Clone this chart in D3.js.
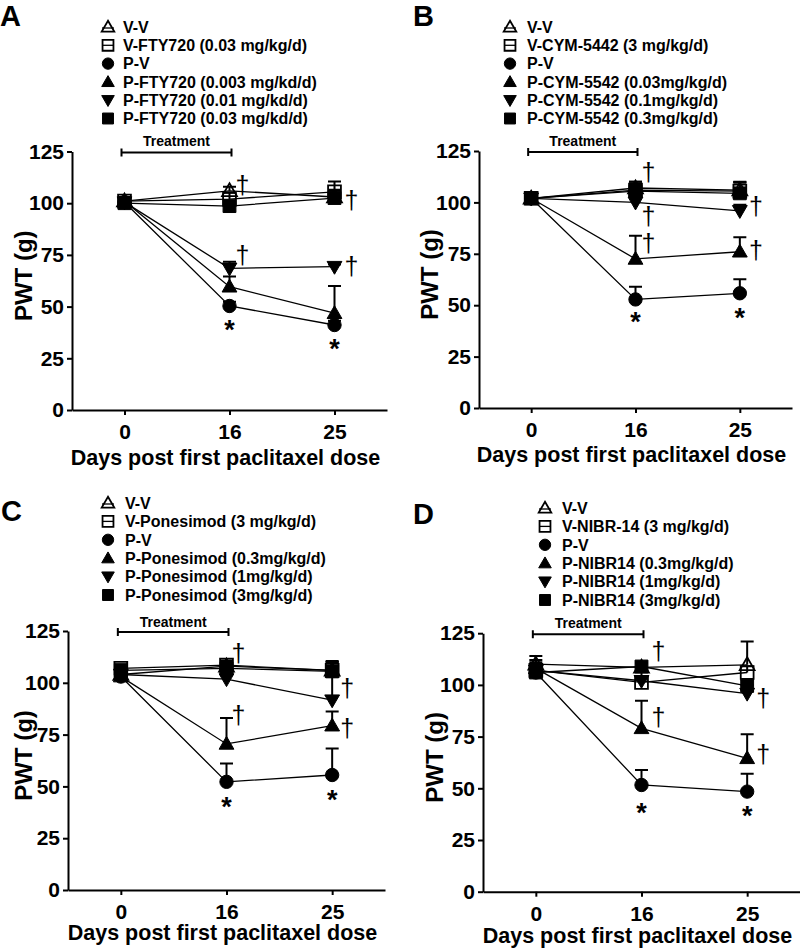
<!DOCTYPE html>
<html><head><meta charset="utf-8">
<script src="https://cdn.jsdelivr.net/npm/d3@7"></script>
<style>body{margin:0;background:#fff}svg{display:block}</style>
</head><body>
<svg id="chart" width="800" height="951"></svg>
<script>
// ---------- data ----------
const days = ["0", "16", "25"];
const yTickValues = [0, 25, 50, 75, 100, 125];
const markerTypes = ["triangleOpen", "squareOpen", "circle", "triangle", "triangleDown", "square"];

const groupsA = ["V-V", "V-FTY720 (0.03 mg/kg/d)", "P-V", "P-FTY720 (0.003 mg/kd/d)", "P-FTY720 (0.01 mg/kd/d)", "P-FTY720 (0.03 mg/kd/d)"];
const meansA = [[101, 106, 103], [101, 102, 105.5], [100.5, 50.3, 41.1], [101, 59.6, 46.8], [100.5, 68.5, 69.3], [100, 98.6, 102.5]];
const errorsA = [[2, 2, 3], [2, 3, 5], [1, 2, 2], [1, 5, 13.2], [1, 3.2, 1], [1, 2, 4]];
const daggersA = [[1, 107.8], [2, 100.6], [1, 74], [2, 68.7]];
const asterisksA = [[1, 42], [2, 32.4]];

const groupsB = ["V-V", "V-CYM-5442 (3 mg/kg/d)", "P-V", "P-CYM-5542 (0.03mg/kg/d)", "P-CYM-5542 (0.1mg/kg/d)", "P-CYM-5542 (0.3mg/kg/d)"];
const meansB = [[102, 107, 106], [102, 106, 105.5], [102, 52.8, 55.8], [102, 72.5, 76], [102, 100, 95.9], [102, 105.5, 104.4]];
const errorsB = [[1.5, 3, 4], [1.5, 3, 4], [1.5, 6.2, 6.8], [1.5, 11.3, 7], [1.5, 3, 3], [1.5, 4.5, 5.5]];
const daggersB = [[1, 114], [1, 92.4], [1, 79.2], [2, 97.2], [2, 75.8]];
const asterisksB = [[1, 45], [2, 46.7]];

const groupsC = ["V-V", "V-Ponesimod (3 mg/kg/d)", "P-V", "P-Ponesimod (0.3mg/kg/d)", "P-Ponesimod (1mg/kg/d)", "P-Ponesimod (3mg/kg/d)"];
const meansC = [[104, 108, 106], [107, 108.5, 106], [103, 52.2, 55.5], [103, 70.5, 79.3], [104, 101.8, 91.6], [106, 107, 105.5]];
const errorsC = [[3, 2, 4], [2, 2, 4], [1, 8.8, 12.8], [1, 12.5, 6.8], [1, 2, 14], [2, 2, 5]];
const daggersC = [[1, 113.4], [1, 83.5], [2, 96.5], [2, 77.2]];
const asterisksC = [[1, 43.4], [2, 46.8]];

const groupsD = ["V-V", "V-NIBR-14 (3 mg/kg/d)", "P-V", "P-NIBR14 (0.3mg/kg/d)", "P-NIBR14 (1mg/kg/d)", "P-NIBR14 (3mg/kg/d)"];
const meansD = [[110, 108.5, 109.7], [107, 101.2, 106], [106, 51.6, 48.4], [108, 79, 64.5], [107, 102, 95.8], [106, 108.9, 99.5]];
const errorsD = [[4, 2, 11.3], [5, 3, 3], [3, 7.3, 8.6], [3, 13.3, 11.6], [3, 5, 4], [4, 2, 3]];
const daggersD = [[1, 115.5], [1, 83.5], [2, 92.8], [2, 65.7]];
const asterisksD = [[1, 41], [2, 39.6]];

// ---------- layout ----------
const panels = [
  {letter: "A", groups: groupsA, means: meansA, errors: errorsA, daggers: daggersA, asterisks: asterisksA,
   letterX: 0, letterY: 26, left: 72, bottom: 410, width: 315, height: 258.5,
   legX: 108, legY: 27, legStep: 18.3, textX: 123, treatBase: 146, xlabBase: 465, ylabX: 32, dagDx: [0, 13, 17]},
  {letter: "B", groups: groupsB, means: meansB, errors: errorsB, daggers: daggersB, asterisks: asterisksB,
   letterX: 413, letterY: 26, left: 479, bottom: 408, width: 313, height: 257,
   legX: 510, legY: 27, legStep: 18.3, textX: 527, treatBase: 146, xlabBase: 462, ylabX: 438, dagDx: [0, 13, 16]},
  {letter: "C", groups: groupsC, means: meansC, errors: errorsC, daggers: daggersC, asterisks: asterisksC,
   letterX: 1, letterY: 521, left: 68, bottom: 890, width: 317, height: 259,
   legX: 108, legY: 503, legStep: 18.4, textX: 125, treatBase: 627, xlabBase: 940, ylabX: 32, dagDx: [0, 12, 15]},
  {letter: "D", groups: groupsD, means: meansD, errors: errorsD, daggers: daggersD, asterisks: asterisksD,
   letterX: 413, letterY: 524, left: 483, bottom: 891.7, width: 317, height: 258.5,
   legX: 545, legY: 508, legStep: 18.4, textX: 562, treatBase: 628, xlabBase: 943, ylabX: 443, dagDx: [0, 17, 16]}
];

const FONT = "'Liberation Sans', Arial, Helvetica, sans-serif";
const svg = d3.select("#chart");

function markerPath(type, big) {
  const k = big ? 1 : 0.85;
  let sym, size;
  if (type.startsWith("triangle")) { sym = d3.symbolTriangle; size = 95 * k * k; }
  else if (type.startsWith("square")) { sym = d3.symbolSquare; size = 165 * k * k; }
  else { sym = d3.symbolCircle; size = 140 * k * k; }
  return d3.symbol(sym, size)();
}
function drawMarker(g, type, x, y, big) {
  const open = type.endsWith("Open");
  const rot = type === "triangleDown" ? 180 : 0;
  const ty = type.startsWith("triangle") ? (rot ? -1 : 1) : 0;
  g.append("path")
    .attr("d", markerPath(type, big))
    .attr("transform", `translate(${x},${y + ty}) rotate(${rot})`)
    .attr("fill", open ? "none" : "#000")
    .attr("stroke", "#000")
    .attr("stroke-width", open ? 1.8 : 1);
}

panels.forEach(p => {
  const g = svg.append("g");
  const x = d3.scalePoint().domain(days).range([p.left, p.left + p.width]).padding(0.5);
  const y = d3.scaleLinear().domain([0, 125]).range([p.bottom, p.bottom - p.height]);

  // panel letter
  g.append("text").attr("x", p.letterX).attr("y", p.letterY).attr("fill", "#000")
    .attr("font-family", FONT).attr("font-weight", "bold").attr("font-size", 29).text(p.letter);

  // legend
  p.groups.forEach((name, i) => {
    const cy = p.legY + i * p.legStep;
    const t = markerTypes[i];
    drawMarker(g, t, p.legX, cy, false);
    if (t.endsWith("Open")) {
      const ly = cy + (t.startsWith("tri") ? 1 : 0);
      g.append("line").attr("x1", p.legX - 6).attr("x2", p.legX + 6).attr("y1", ly).attr("y2", ly)
        .attr("stroke", "#000").attr("stroke-width", 1.3);
    }
    g.append("text").attr("x", p.textX).attr("y", cy + 5.8).attr("fill", "#000")
      .attr("font-family", FONT).attr("font-weight", "bold").attr("font-size", 16).text(name);
  });

  // axes
  const yAxis = d3.axisLeft(y).tickValues(yTickValues).tickSize(5).tickPadding(3).tickSizeOuter(0);
  const gy = g.append("g").attr("transform", `translate(${p.left},0)`).call(yAxis);
  const xAxis = d3.axisBottom(x).tickSize(5).tickPadding(9).tickSizeOuter(0);
  const gx = g.append("g").attr("transform", `translate(0,${p.bottom})`).call(xAxis);
  [gx, gy].forEach(a => {
    a.select(".domain").attr("stroke", "#000").attr("stroke-width", 2);
    a.selectAll(".tick line").attr("stroke", "#000").attr("stroke-width", 2);
    a.selectAll(".tick text").attr("font-family", FONT).attr("font-weight", "bold")
      .attr("font-size", 21).attr("fill", "#000");
  });

  // axis titles
  g.append("text").attr("x", p.left + p.width / 2 - 4).attr("y", p.xlabBase).attr("fill", "#000")
    .attr("text-anchor", "middle").attr("font-family", FONT).attr("font-weight", "bold").attr("font-size", 21.5)
    .text("Days post first paclitaxel dose");
  g.append("text").attr("transform", `translate(${p.ylabX},${p.bottom - p.height / 2 - 5}) rotate(-90)`).attr("fill", "#000")
    .attr("text-anchor", "middle").attr("font-family", FONT).attr("font-weight", "bold").attr("font-size", 24)
    .text("PWT (g)");

  // treatment bracket
  const bx1 = x(days[0]) - 3, bx2 = x(days[1]) + 2, by = y(124.5);
  g.append("path").attr("d", `M${bx1},${by - 4}V${by + 4}M${bx1},${by}H${bx2}M${bx2},${by - 4}V${by + 4}`)
    .attr("stroke", "#000").attr("stroke-width", 2).attr("fill", "none");
  g.append("text").attr("x", (bx1 + bx2) / 2).attr("y", p.treatBase).attr("text-anchor", "middle").attr("fill", "#000")
    .attr("font-family", FONT).attr("font-weight", "bold").attr("font-size", 14).text("Treatment");

  // series lines
  const line = d3.line().x((d, i) => x(days[i])).y(d => y(d));
  p.means.forEach(m => {
    g.append("path").attr("d", line(m)).attr("fill", "none").attr("stroke", "#000").attr("stroke-width", 1.3);
  });
  // error bars (upper only)
  p.means.forEach((m, s) => {
    m.forEach((v, i) => {
      const cx = x(days[i]), top = y(v + p.errors[s][i]);
      g.append("path").attr("d", `M${cx},${y(v)}V${top}M${cx - 6.5},${top}H${cx + 6.5}`)
        .attr("stroke", "#000").attr("stroke-width", 2).attr("fill", "none");
    });
  });
  // markers
  p.means.forEach((m, s) => {
    m.forEach((v, i) => drawMarker(g, markerTypes[s], x(days[i]), y(v), true));
  });

  // significance marks
  p.daggers.forEach(([i, v]) => {
    g.append("text").attr("x", x(days[i]) + p.dagDx[i]).attr("y", y(v) + 7).attr("fill", "#000")
      .attr("text-anchor", "middle").attr("font-family", FONT).attr("font-size", 25).text("\u2020");
  });
  p.asterisks.forEach(([i, v]) => {
    g.append("text").attr("x", x(days[i])).attr("y", y(v) + 15.5).attr("fill", "#000")
      .attr("text-anchor", "middle").attr("font-family", FONT).attr("font-weight", "bold").attr("font-size", 27).text("*");
  });
});
</script>
</body></html>
